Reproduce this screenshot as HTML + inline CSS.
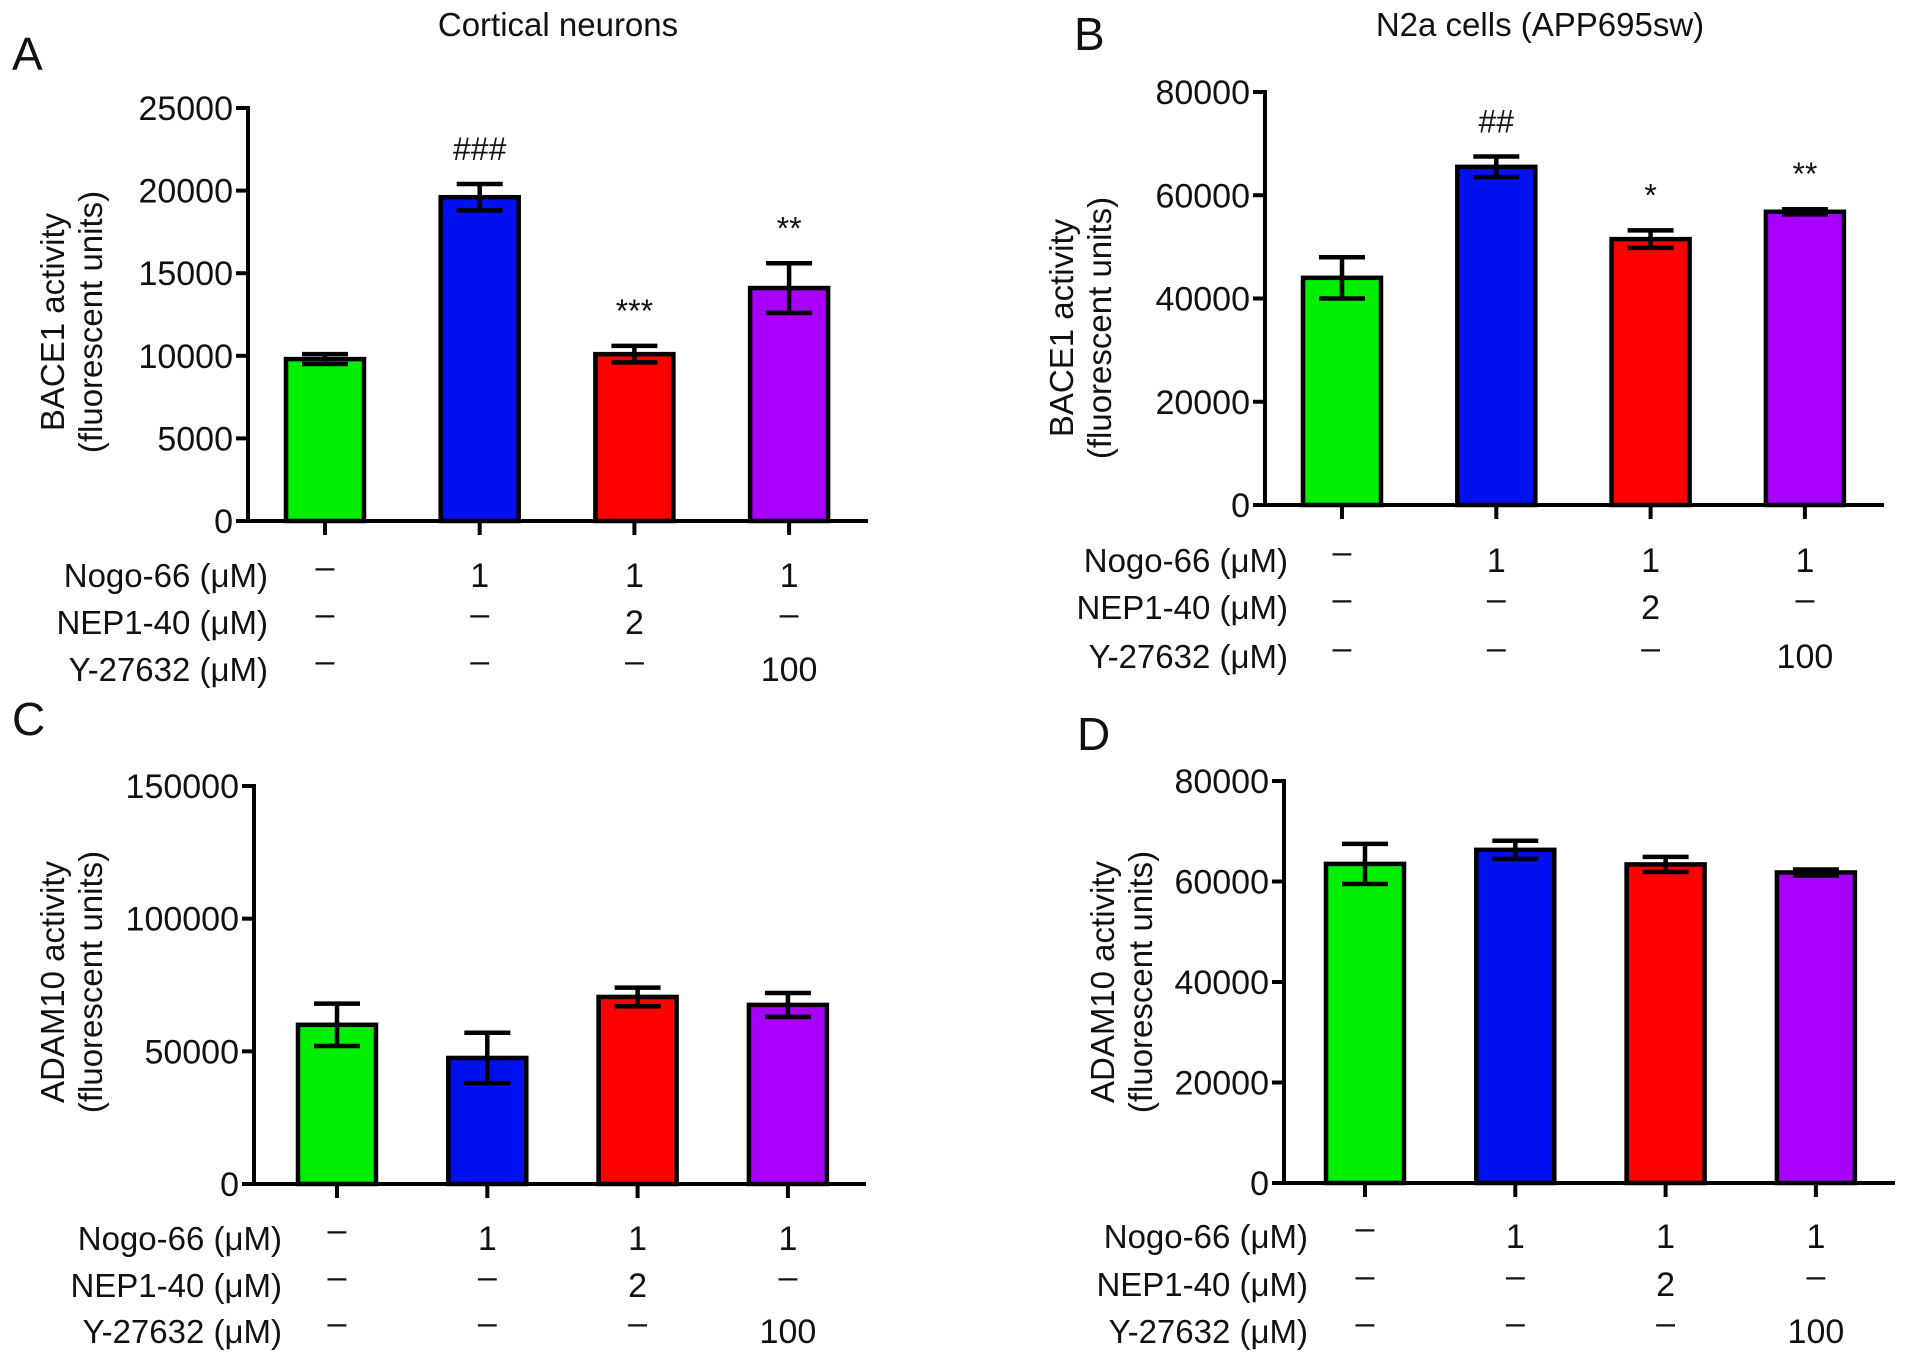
<!DOCTYPE html>
<html><head><meta charset="utf-8">
<style>
html,body{margin:0;padding:0;background:#fff;}
svg{display:block;font-family:"Liberation Sans",Arial,sans-serif;}
</style></head>
<body>
<svg id="fig" width="1913" height="1359" viewBox="0 0 1913 1359" xmlns="http://www.w3.org/2000/svg">
<rect width="1913" height="1359" fill="#fff"/>
</svg>
<script>
// Panel data
const categories = ["Control", "Nogo-66", "Nogo-66+NEP1-40", "Nogo-66+Y-27632"];
const colors = ["#00ee00", "#0010ee", "#ff0000", "#a800ff"];
const nogoRow = ["\u2013", "1", "1", "1"];
const nepRow = ["\u2013", "\u2013", "2", "\u2013"];
const yRow = ["\u2013", "\u2013", "\u2013", "100"];
const rowLabels = ["Nogo-66 (\u03bcM)", "NEP1-40 (\u03bcM)", "Y-27632 (\u03bcM)"];

const aValues = [9800, 19600, 10100, 14100];
const aErrors = [300, 800, 500, 1500];
const aMarks = ["", "###", "***", "**"];
const aTicks = [0, 5000, 10000, 15000, 20000, 25000];

const bValues = [44000, 65500, 51500, 56800];
const bErrors = [4000, 2000, 1700, 500];
const bMarks = ["", "##", "*", "**"];
const bTicks = [0, 20000, 40000, 60000, 80000];

const cValues = [60000, 47500, 70500, 67500];
const cErrors = [8000, 9500, 3500, 4500];
const cMarks = ["", "", "", ""];
const cTicks = [0, 50000, 100000, 150000];

const dValues = [63500, 66300, 63400, 61800];
const dErrors = [4000, 1800, 1500, 600];
const dMarks = ["", "", "", ""];
const dTicks = [0, 20000, 40000, 60000, 80000];

const NS = "http://www.w3.org/2000/svg";
const svg = document.getElementById("fig");
function mk(tag, attrs, parent) {
  const e = document.createElementNS(NS, tag);
  for (const k in attrs) e.setAttribute(k, attrs[k]);
  (parent || svg).appendChild(e);
  return e;
}
function txt(s, x, y, size, anchor, parent) {
  const t = mk("text", {x: x, y: y, "font-size": size, "text-anchor": anchor || "middle", fill: "#111"}, parent);
  t.textContent = s;
  return t;
}

function panel(cfg) {
  const g = mk("g", {});
  
  
  const yMax = cfg.ticks[cfg.ticks.length - 1];
  const ys = v => cfg.y0 - (v / yMax) * (cfg.y0 - cfg.yTop);
  const xs = i => cfg.xFirst + i * cfg.step;
  const L = txt(cfg.letter, cfg.letterX, cfg.letterY, 46, "start", g);
  
  
  if (cfg.title) {
    const T = txt(cfg.title, cfg.titleX, cfg.titleY, 33, "middle", g);
    
    
  }
  const yt = mk("text", {transform: "translate(" + cfg.ytX + "," + cfg.ytY + ") rotate(-90)", "font-size": 33, "text-anchor": "middle", fill: "#111"}, g);
  
  
  const t1 = mk("tspan", {x: 0, y: 0}, yt); t1.textContent = cfg.yTitle;
  const t2 = mk("tspan", {x: 0, y: 38}, yt); t2.textContent = "(fluorescent units)";
  cfg.values.forEach((v, i) => {
    const cx = xs(i), w = 78;
    const b = mk("rect", {x: cx - w / 2, y: ys(v), width: w, height: cfg.y0 - ys(v), fill: colors[i], stroke: "#000", "stroke-width": 4.5}, g);
    
    
    const e = cfg.errors[i];
    const eg = mk("g", {stroke: "#000", "stroke-width": 4.5}, g);
    
    
    mk("line", {x1: cx, x2: cx, y1: ys(v + e), y2: ys(v - e)}, eg);
    mk("line", {x1: cx - 23, x2: cx + 23, y1: ys(v + e), y2: ys(v + e)}, eg);
    mk("line", {x1: cx - 23, x2: cx + 23, y1: ys(v - e), y2: ys(v - e)}, eg);
    if (cfg.marks[i]) {
      const m = txt(cfg.marks[i], cx, ys(v + e) - 24, 32, "middle", g);
      
      
    }
    mk("line", {x1: cx, x2: cx, y1: cfg.y0, y2: cfg.y0 + 14, stroke: "#000", "stroke-width": 4}, g);
  });
  const ya = mk("line", {x1: cfg.xAxis, x2: cfg.xAxis, y1: cfg.yTop - 2, y2: cfg.y0 + 2, stroke: "#000", "stroke-width": 4}, g);
  
  
  const xa = mk("line", {x1: cfg.xAxis - 2, x2: cfg.xEnd, y1: cfg.y0, y2: cfg.y0, stroke: "#000", "stroke-width": 4}, g);
  
  
  cfg.ticks.forEach(t => {
    const y = ys(t);
    mk("line", {x1: cfg.xAxis - 12, x2: cfg.xAxis, y1: y, y2: y, stroke: "#000", "stroke-width": 4}, g);
    const tl = txt(String(t), cfg.xAxis - 15, y + 12, 34, "end", g);
    
    
  });
  [nogoRow, nepRow, yRow].forEach((row, r) => {
    const yy = cfg.rows[r];
    const rl = txt(rowLabels[r], cfg.rowLabelX, yy + 12, 33, "end", g);
    
    
    row.forEach((s, i) => {
      const c = txt(s, xs(i), yy + 12 - (s === "\u2013" ? 9 : 0), 34, "middle", g);
      
      
    });
  });
}

panel({name: "panel-a-bace1-cortical", letter: "A", letterX: 12, letterY: 70, title: "Cortical neurons", titleX: 558, titleY: 36,
  yTitle: "BACE1 activity", ytX: 64, ytY: 322, values: aValues, errors: aErrors, marks: aMarks, ticks: aTicks,
  xAxis: 248, xEnd: 868, y0: 521, yTop: 108, xFirst: 325, step: 154.7, rows: [575, 622, 669], rowLabelX: 268});
panel({name: "panel-b-bace1-n2a", letter: "B", letterX: 1074, letterY: 50, title: "N2a cells (APP695sw)", titleX: 1540, titleY: 36,
  yTitle: "BACE1 activity", ytX: 1073, ytY: 328, values: bValues, errors: bErrors, marks: bMarks, ticks: bTicks,
  xAxis: 1265, xEnd: 1884, y0: 505, yTop: 92, xFirst: 1342, step: 154.3, rows: [560, 607, 656], rowLabelX: 1288});
panel({name: "panel-c-adam10-cortical", letter: "C", letterX: 12, letterY: 735, title: "",
  yTitle: "ADAM10 activity", ytX: 64, ytY: 982, values: cValues, errors: cErrors, marks: cMarks, ticks: cTicks,
  xAxis: 254, xEnd: 866, y0: 1184, yTop: 786, xFirst: 337, step: 150.3, rows: [1238, 1285, 1331], rowLabelX: 282});
panel({name: "panel-d-adam10-n2a", letter: "D", letterX: 1077, letterY: 750, title: "",
  yTitle: "ADAM10 activity", ytX: 1114, ytY: 982, values: dValues, errors: dErrors, marks: dMarks, ticks: dTicks,
  xAxis: 1284, xEnd: 1895, y0: 1183, yTop: 781, xFirst: 1365, step: 150.3, rows: [1236, 1284, 1331], rowLabelX: 1308});
</script>
</body></html>
